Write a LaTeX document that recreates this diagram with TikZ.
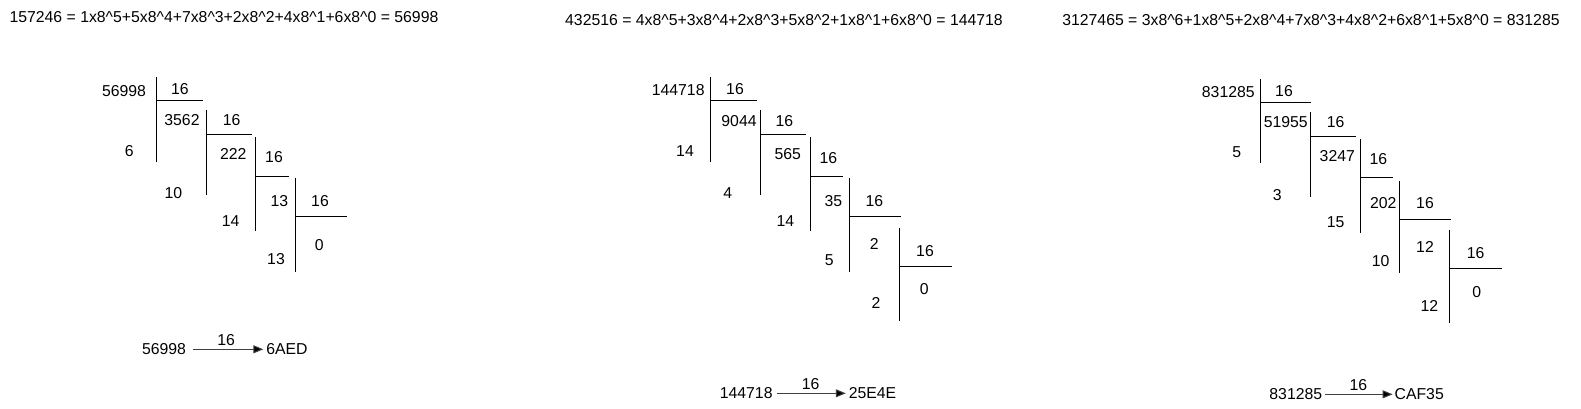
\documentclass[tikz,border=0pt]{standalone}
\usepackage{fontspec}
\setmainfont{Liberation Sans}
\usetikzlibrary{arrows.meta}
\newcommand{\hatc}{\textasciicircum}
\tikzset{
  txt/.style={inner sep=0pt, outer sep=0pt, text=black},
  bar/.style={draw=black, line width=1pt},
  conv/.style={draw=black!75, line width=1pt, -{Triangle[length=10pt,width=8pt,fill=black]}, shorten <=4pt, shorten >=3pt},
  lbl/.style={txt, midway, above=4pt}
}
\begin{document}
\begin{tikzpicture}[x=1pt, y=-1pt, font=\fontsize{15.8}{18}\selectfont]
\useasboundingbox (0,0) rectangle (1581,409);
% ---------- headers ----------
\node[txt] (h1) at (224,17.2) {157246 = 1x8\hatc5+5x8\hatc4+7x8\hatc3+2x8\hatc2+4x8\hatc1+6x8\hatc0 = 56998};
\node[txt] (h2) at (784,20.5) {432516 = 4x8\hatc5+3x8\hatc4+2x8\hatc3+5x8\hatc2+1x8\hatc1+6x8\hatc0 = 144718};
\node[txt] (h3) at (1311,20.5) {3127465 = 3x8\hatc6+1x8\hatc5+2x8\hatc4+7x8\hatc3+4x8\hatc2+6x8\hatc1+5x8\hatc0 = 831285};
% ---------- panel 1 ----------
\node[txt] (pa1) at (124,91) {56998};
\node[txt] (pa1d) at (180,89) {16};
\node[txt] (pa2) at (182,120) {3562};
\node[txt] (pa2d) at (231.7,120) {16};
\node[txt] (pa1r) at (129.3,150.7) {6};
\node[txt] (pa3) at (233.3,154.3) {222};
\node[txt] (pa3d) at (274,157.3) {16};
\node[txt] (pa2r) at (173.3,192.7) {10};
\node[txt] (pa4) at (279.3,201) {13};
\node[txt] (pa4d) at (320,201) {16};
\node[txt] (pa3r) at (230.7,220.7) {14};
\node[txt] (pa5) at (319.3,245) {0};
\node[txt] (pa4r) at (276,259) {13};
\draw[bar] (156.7,77) -- (156.7,162) (156.7,100.7) -- (202.7,100.7);
\draw[bar] (206.7,110) -- (206.7,195) (206.7,134.3) -- (251.7,134.3);
\draw[bar] (255.7,137.3) -- (255.7,230.7) (255.7,176) -- (289.3,176);
\draw[bar] (295,178.3) -- (295,271.7) (295,216.7) -- (346.7,216.7);
\node[txt] (ra) at (164,349.3) {56998};
\node[txt] (sa) at (287,349.3) {6AED};
\draw[conv, shorten <=7pt] (ra) -- (sa) node[lbl] (la) {16};
% ---------- panel 2 ----------
\node[txt] (pb1) at (678.2,90) {144718};
\node[txt] (pb1d) at (735,89.3) {16};
\node[txt] (pb2) at (739,120.7) {9044};
\node[txt] (pb2d) at (784.3,120.7) {16};
\node[txt] (pb1r) at (685,150.7) {14};
\node[txt] (pb3) at (787.7,154.3) {565};
\node[txt] (pb3d) at (828.3,157.7) {16};
\node[txt] (pb2r) at (727.7,193.3) {4};
\node[txt] (pb4) at (833.3,201) {35};
\node[txt] (pb4d) at (874.3,201) {16};
\node[txt] (pb3r) at (785.3,220.7) {14};
\node[txt] (pb5) at (874.3,244.3) {2};
\node[txt] (pb5d) at (925,251) {16};
\node[txt] (pb4r) at (829.3,260) {5};
\node[txt] (pb6) at (924.3,289.3) {0};
\node[txt] (pb5r) at (876,302.7) {2};
\draw[bar] (710.7,77.3) -- (710.7,161.7) (710.7,101) -- (756.7,101);
\draw[bar] (760,110) -- (760,195) (760,134.3) -- (805.7,134.3);
\draw[bar] (810,137.3) -- (810,230.7) (810,176) -- (843.3,176);
\draw[bar] (849,178.3) -- (849,271.7) (849,216.7) -- (900.7,216.7);
\draw[bar] (899.3,227.7) -- (899.3,320.7) (899.3,266.7) -- (951.7,266.7);
\node[txt] (rb) at (746.2,393.3) {144718};
\node[txt] (sb) at (872.5,393.3) {25E4E};
\draw[conv] (rb) -- (sb) node[lbl] (lb) {16};
% ---------- panel 3 ----------
\node[txt] (pc1) at (1228.3,92.3) {831285};
\node[txt] (pc1d) at (1284,90.7) {16};
\node[txt] (pc2) at (1285.8,121.7) {51955};
\node[txt] (pc2d) at (1335.7,121.7) {16};
\node[txt] (pc1r) at (1236.7,152.3) {5};
\node[txt] (pc3) at (1337.3,155.7) {3247};
\node[txt] (pc3d) at (1378.3,159) {16};
\node[txt] (pc2r) at (1277.3,195) {3};
\node[txt] (pc4) at (1383.3,203.3) {202};
\node[txt] (pc4d) at (1425,203.3) {16};
\node[txt] (pc3r) at (1335.7,221.7) {15};
\node[txt] (pc5) at (1425,247.3) {12};
\node[txt] (pc5d) at (1475.7,252.7) {16};
\node[txt] (pc4r) at (1380.7,260.7) {10};
\node[txt] (pc6) at (1476.7,291.7) {0};
\node[txt] (pc5r) at (1429.3,305.7) {12};
\draw[bar] (1260.7,79) -- (1260.7,163.3) (1260.7,102.7) -- (1310.7,102.7);
\draw[bar] (1310.3,111.7) -- (1310.3,196.7) (1310.3,136.7) -- (1355.7,136.7);
\draw[bar] (1360,139) -- (1360,232.7) (1360,177.7) -- (1393.3,177.7);
\draw[bar] (1399.3,180.7) -- (1399.3,273.3) (1399.3,219) -- (1450.7,219);
\draw[bar] (1449.3,230) -- (1449.3,323.3) (1449.3,268.7) -- (1501.7,268.7);
\node[txt] (rc) at (1295.8,394.3) {831285};
\node[txt] (sc) at (1419.2,394.3) {CAF35};
\draw[conv, shorten <=3pt, shorten >=2pt] (rc) -- (sc) node[lbl] (lc) {16};
\end{tikzpicture}
\end{document}
